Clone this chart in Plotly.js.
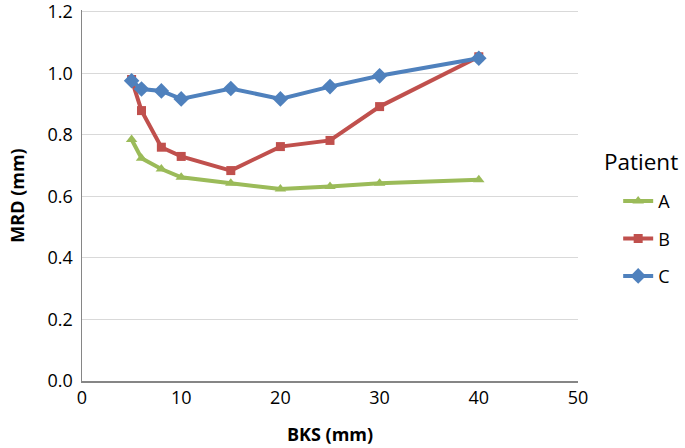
<!DOCTYPE html>
<html>
<head>
<meta charset="utf-8">
<script src="https://cdn.plot.ly/plotly-3.0.1.min.js"></script>
<style>html,body{margin:0;padding:0;background:#fff}#chart{width:685px;height:448px}</style>
</head>
<body>
<div id="chart"></div>
<script>
const bks = [5, 6, 8, 10, 15, 20, 25, 30, 40];
const patientA = [0.785, 0.724, 0.689, 0.662, 0.643, 0.624, 0.632, 0.643, 0.654];
const patientB = [0.980, 0.879, 0.760, 0.730, 0.684, 0.762, 0.782, 0.892, 1.054];
const patientC = [0.976, 0.949, 0.943, 0.917, 0.951, 0.917, 0.957, 0.992, 1.049];
const seriesNames = ['A', 'B', 'C'];
const legendTitle = 'Patient';
const xTickStep = 10;
const yTickStep = 0.2;
const yMax = 1.2;

const font = 'Open Sans, Liberation Sans, sans-serif';
const traces = [
  {x: bks, y: patientA, name: seriesNames[0], legendgroup: 'a', mode: 'lines+markers',
   line: {color: '#9BBB59', width: 4}, marker: {symbol: 'triangle-up', size: 10, color: '#9BBB59'}},
  {x: bks, y: patientB, name: seriesNames[1], legendgroup: 'b', mode: 'lines+markers',
   line: {color: '#C0504D', width: 4}, marker: {symbol: 'square', size: 9, color: '#C0504D'}},
  {x: bks, y: patientC, name: seriesNames[2], legendgroup: 'c', mode: 'lines+markers',
   line: {color: '#4F81BD', width: 4}, marker: {symbol: 'diamond', size: 12, color: '#4F81BD'}}
];
const layout = {
  width: 685, height: 448,
  margin: {l: 82, r: 104, t: 10, b: 67},
  paper_bgcolor: '#fff', plot_bgcolor: '#fff',
  font: {family: font, color: '#000', size: 18},
  showlegend: true,
  legend: {x: 1.081, xanchor: 'left', y: 0.383, yanchor: 'middle', xref: 'paper', yref: 'paper',
    font: {size: 18, family: font}, tracegroupgap: 11},
  annotations: [{text: legendTitle, xref: 'paper', yref: 'paper', x: 1.048, y: 0.592,
    xanchor: 'left', yanchor: 'middle', showarrow: false, font: {size: 22.5, family: font}}],
  xaxis: {range: [0, 50], tickmode: 'linear', tick0: 0, dtick: xTickStep,
    showgrid: false, zeroline: false, showline: true, linecolor: '#868686', linewidth: 1.5,
    ticks: '', tickfont: {size: 18, family: font}, ticklabeloverflow: 'allow',
    title: {text: 'BKS (mm)', font: {size: 18, family: font, weight: 'bold'}, standoff: 20}},
  yaxis: {range: [0, yMax + 0.006], tickmode: 'linear', tick0: 0, dtick: yTickStep, tickformat: '.1f',
    showgrid: true, gridcolor: '#D9D9D9', gridwidth: 1, zeroline: false,
    showline: true, linecolor: '#868686', linewidth: 1.5, ticks: '', ticklabelstandoff: 4,
    tickfont: {size: 18, family: font}, ticklabeloverflow: 'allow',
    title: {text: 'MRD (mm)', font: {size: 18, family: font, weight: 'bold'}, standoff: 18}}
};
Plotly.newPlot('chart', traces, layout, {displayModeBar: false, staticPlot: true});
</script>
</body>
</html>
